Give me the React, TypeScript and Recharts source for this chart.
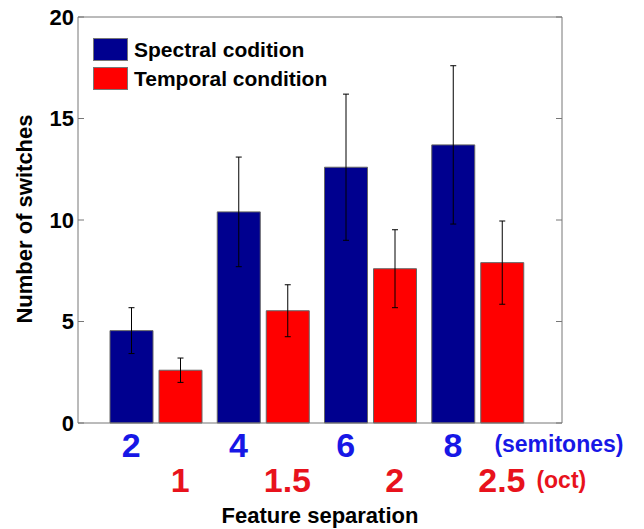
import { BarChart, Bar, XAxis, YAxis, ErrorBar, Legend, CartesianGrid } from "recharts"

const semitones = ["2", "4", "6", "8"]
const octaves = ["1", "1.5", "2", "2.5"]
const spectral = [4.55, 10.4, 12.6, 13.7]
const spectralErr = [1.13, 2.7, 3.6, 3.9]
const temporal = [2.6, 5.53, 7.6, 7.9]
const temporalErr = [0.6, 1.28, 1.92, 2.05]
const yTicks = [0, 5, 10, 15, 20]

const FONT = "'Liberation Sans', Arial, Helvetica, sans-serif"
const BLUE_TXT = "#1717e6"
const RED_TXT = "#e8121c"
const AXIS = "#777"
const BAR_SIZE = 43
const BAR_GAP = 6
const W = 644
const H = 529
const MARGIN = { top: 17, right: 82, bottom: 16, left: 0 }
const Y_AXIS_W = 78
const PLOT_W = W - MARGIN.left - MARGIN.right - Y_AXIS_W

const data = semitones.map((s, i) => ({
  semi: s,
  oct: octaves[i],
  spectral: spectral[i],
  spectralErr: spectralErr[i],
  temporal: temporal[i],
  temporalErr: temporalErr[i],
}))

// left label + inward ticks on both the left and right frame edges
function LeftTick({ x, y, payload }: any) {
  return (
    <g>
      <line x1={x} x2={x + 6} y1={y} y2={y} stroke={AXIS} />
      <line x1={x + PLOT_W - 6} x2={x + PLOT_W} y1={y} y2={y} stroke={AXIS} />
      <text x={x - 4} y={y} dy="0.36em" textAnchor="end" fontFamily={FONT} fontWeight="bold" fontSize={22} fill="#000">
        {payload.value}
      </text>
    </g>
  )
}

function BottomTick({ x, y, payload, index }: any) {
  const off = (BAR_SIZE + BAR_GAP) / 2
  return (
    <g fontFamily={FONT} fontWeight="bold">
      <text x={x - off} y={y + 34} textAnchor="middle" fontSize={34} fill={BLUE_TXT}>
        {payload.value}
      </text>
      <text x={x + off} y={y + 69} textAnchor="middle" fontSize={34} fill={RED_TXT}>
        {octaves[index]}
      </text>
      {index === semitones.length - 1 && (
        <>
          <text x={x + 17} y={y + 29} fontSize={23} fill={BLUE_TXT}>(semitones)</text>
          <text x={x + 59} y={y + 65} fontSize={23} fill={RED_TXT}>(oct)</text>
        </>
      )}
    </g>
  )
}

function LegendBox({ payload }: any) {
  return (
    <div style={{ fontFamily: FONT, fontWeight: "bold", fontSize: 21 }}>
      {(payload || []).map((p: any) => (
        <div key={p.value} style={{ display: "flex", alignItems: "center", height: 29 }}>
          <span
            style={{
              display: "inline-block",
              width: 33,
              height: 21,
              background: p.color,
              border: "1px solid #777",
              marginRight: 6,
            }}
          />
          <span style={{ color: "#000", whiteSpace: "nowrap" }}>{p.value}</span>
        </div>
      ))}
    </div>
  )
}

export default function App() {
  return (
    <div style={{ position: "absolute", left: 0, top: 0, background: "#fff" }}>
      <BarChart width={W} height={H} data={data} margin={MARGIN} barSize={BAR_SIZE} barGap={BAR_GAP}>
        {/* top and right edges of the box */}
        <CartesianGrid
          stroke={AXIS}
          strokeWidth={1}
          horizontalCoordinatesGenerator={({ offset }: any) => [offset.top]}
          verticalCoordinatesGenerator={({ offset }: any) => [offset.left + offset.width]}
        />
        <XAxis
          dataKey="semi"
          height={90}
          padding={{ left: 24, right: 31 }}
          axisLine={{ stroke: AXIS }}
          tickLine={false}
          tickSize={0}
          tickMargin={0}
          tick={<BottomTick />}
          interval={0}
          label={{
            content: ({ viewBox }: any) => (
              <text
                x={viewBox.x + viewBox.width / 2}
                y={viewBox.y + 100}
                textAnchor="middle"
                fontFamily={FONT}
                fontWeight="bold"
                fontSize={22}
                fill="#000"
              >
                Feature separation
              </text>
            ),
          }}
        />
        <YAxis
          domain={[0, 20]}
          ticks={yTicks}
          width={Y_AXIS_W}
          axisLine={{ stroke: AXIS }}
          tickLine={false}
          tickSize={0}
          tickMargin={0}
          tick={<LeftTick />}
          label={{
            content: () => (
              <text
                x={32}
                y={219}
                transform="rotate(-90 32 219)"
                textAnchor="middle"
                fontFamily={FONT}
                fontWeight="bold"
                fontSize={22}
                fill="#000"
              >
                Number of switches
              </text>
            ),
          }}
        />
        <Legend
          layout="vertical"
          align="center"
          verticalAlign="middle"
          content={<LegendBox />}
          wrapperStyle={{ left: 93, top: 35, width: 260 }}
        />
        <Bar dataKey="spectral" name="Spectral codition" fill="#00008f" stroke="#666" strokeWidth={1} isAnimationActive={false}>
          <ErrorBar dataKey="spectralErr" width={3} stroke="#000" strokeWidth={1} />
        </Bar>
        <Bar dataKey="temporal" name="Temporal condition" fill="#ff0000" stroke="#666" strokeWidth={1} isAnimationActive={false}>
          <ErrorBar dataKey="temporalErr" width={3} stroke="#000" strokeWidth={1} />
        </Bar>
      </BarChart>
    </div>
  )
}
